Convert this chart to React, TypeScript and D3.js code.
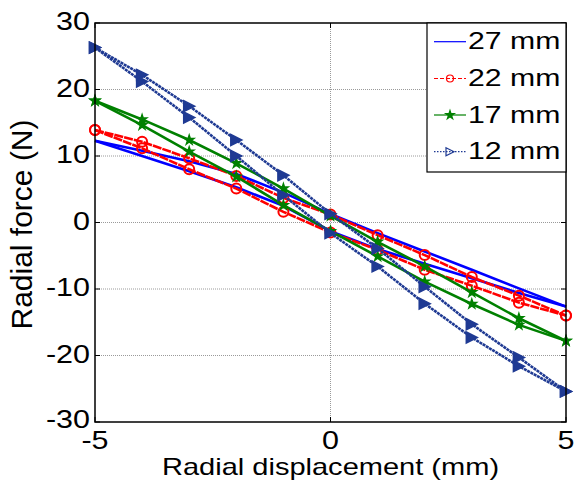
import React, { useEffect, useRef } from "react";
import * as d3 from "d3";

// displacement steps (mm)
const disp = [-5, -4, -3, -2, -1, 0, 1, 2, 3, 4, 5];

// each gap measured as a loop: lower branch going -5 -> 5, upper branch going back 5 -> -5
const lower27 = [12.3, 10.0, 7.7, 5.3, 2.5, -1.3, -4.0, -6.2, -8.4, -10.6, -12.65];
const upper27 = [12.3, 10.8, 9.2, 7.3, 4.5, 1.3, -1.6, -4.35, -7.1, -9.9, -12.65];
const lower22 = [13.9, 11.15, 8.0, 5.1, 1.6, -1.5, -4.1, -7.1, -9.5, -12.05, -14.0];
const upper22 = [13.9, 12.15, 9.65, 7.0, 3.7, 1.2, -1.9, -4.9, -8.2, -11.0, -14.0];
const lower17 = [18.3, 14.65, 10.65, 6.9, 2.6, -1.3, -5.1, -8.9, -12.25, -15.4, -17.8];
const upper17 = [18.3, 15.5, 12.4, 8.9, 5.1, 1.0, -2.9, -6.6, -10.5, -14.4, -17.8];
const lower12 = [26.3, 21.2, 15.8, 10.0, 4.1, -1.6, -6.6, -12.2, -17.3, -21.6, -25.4];
const upper12 = [26.3, 22.2, 17.5, 12.4, 7.1, 1.3, -3.9, -9.65, -15.3, -20.3, -25.4];

const seriesNames = ["27 mm", "22 mm", "17 mm", "12 mm"];
const xTicks = [-5, 0, 5];
const yTicks = [-30, -20, -10, 0, 10, 20, 30];

const App = () => {
  const svgRef = useRef<SVGSVGElement>(null);

  useEffect(() => {
    const width = 574;
    const height = 484;
    const margin = { top: 23, right: 8, bottom: 62, left: 95 };
    const fontFam = "'Liberation Sans', Arial, Helvetica, sans-serif";

    const svg = d3.select(svgRef.current)
      .attr("width", width)
      .attr("height", height);
    svg.selectAll("*").remove();

    svg.append("rect").attr("width", width).attr("height", height).attr("fill", "white");

    const x = d3.scaleLinear().domain([-5, 5]).range([margin.left, width - margin.right]);
    const y = d3.scaleLinear().domain([-30, 30]).range([height - margin.bottom, margin.top]);

    // grid
    const grid = svg.append("g");
    yTicks.slice(1, -1).forEach(t => {
      grid.append("line")
        .attr("x1", x(-5)).attr("x2", x(5))
        .attr("y1", y(t)).attr("y2", y(t))
        .attr("stroke", "#9a9a9a").attr("stroke-width", 1).attr("stroke-dasharray", "1,1");
    });
    grid.append("line")
      .attr("x1", x(0)).attr("x2", x(0))
      .attr("y1", y(-30)).attr("y2", y(30))
      .attr("stroke", "#9a9a9a").attr("stroke-width", 1).attr("stroke-dasharray", "1,1");

    const series = [
      { name: seriesNames[0], lo: lower27, up: upper27, color: "#0000ff", dash: null, marker: "none" },
      { name: seriesNames[1], lo: lower22, up: upper22, color: "#ff0000", dash: "9,1", marker: "circle" },
      { name: seriesNames[2], lo: lower17, up: upper17, color: "#008000", dash: null, marker: "star" },
      { name: seriesNames[3], lo: lower12, up: upper12, color: "#1f3a93", dash: "3,0.7", marker: "tri" },
    ];

    const line = d3.line<[number, number]>()
      .x(d => x(d[0]))
      .y(d => y(d[1]));

    const drawMarker = (g: any, kind: string, color: string, cx: number, cy: number, small = false) => {
      if (kind === "circle") {
        g.append("circle").attr("cx", cx).attr("cy", cy).attr("r", small ? 3.5 : 5)
          .attr("fill", "none").attr("stroke", color).attr("stroke-width", small ? 1.2 : 2);
      } else if (kind === "star") {
        g.append("path").attr("d", d3.symbol().type(d3.symbolStar).size(small ? 18 : 26)())
          .attr("transform", `translate(${cx},${cy})`)
          .attr("fill", color).attr("stroke", color).attr("stroke-width", 1.5);
      } else if (kind === "tri") {
        const s = small ? 4 : 5.5;
        g.append("path")
          .attr("d", `M${cx - s},${cy - s}L${cx + s},${cy}L${cx - s},${cy + s}Z`)
          .attr("fill", small ? "none" : color).attr("stroke", color).attr("stroke-width", small ? 1.2 : 1.5);
      }
    };

    const plot = svg.append("g");
    series.forEach(s => {
      const loLine = disp.map((d, i) => [d, s.lo[i]] as [number, number]);
      const upLine = disp.map((d, i) => [d, s.up[i]] as [number, number]);
      [loLine, upLine].forEach(pts => {
        plot.append("path")
          .datum(pts)
          .attr("fill", "none")
          .attr("stroke", s.color)
          .attr("stroke-width", 2.6)
          .attr("stroke-dasharray", s.dash)
          .attr("d", line);
        pts.forEach(p => drawMarker(plot, s.marker, s.color, x(p[0]), y(p[1])));
      });
    });

    // axes box
    svg.append("rect")
      .attr("x", x(-5)).attr("y", y(30))
      .attr("width", x(5) - x(-5)).attr("height", y(-30) - y(30))
      .attr("fill", "none").attr("stroke", "black").attr("stroke-width", 1.5);

    const ticks = svg.append("g").attr("stroke", "black").attr("stroke-width", 1);
    yTicks.forEach(t => {
      ticks.append("line").attr("x1", x(-5)).attr("x2", x(-5) + 5).attr("y1", y(t)).attr("y2", y(t));
      ticks.append("line").attr("x1", x(5)).attr("x2", x(5) - 5).attr("y1", y(t)).attr("y2", y(t));
    });
    xTicks.forEach(t => {
      ticks.append("line").attr("x1", x(t)).attr("x2", x(t)).attr("y1", y(-30)).attr("y2", y(-30) - 5);
      ticks.append("line").attr("x1", x(t)).attr("x2", x(t)).attr("y1", y(30)).attr("y2", y(30) + 5);
    });

    const sx = 1.22;
    yTicks.forEach(t => {
      svg.append("text")
        .attr("transform", `translate(${x(-5) - 5},${y(t) + (t === -30 ? 5.5 : 7)}) scale(${sx},1)`)
        .attr("text-anchor", "end")
        .attr("font-family", fontFam).attr("font-size", 25)
        .text(String(t));
    });
    xTicks.forEach(t => {
      svg.append("text")
        .attr("transform", `translate(${x(t)},${449}) scale(${sx},1)`)
        .attr("text-anchor", "middle")
        .attr("font-family", fontFam).attr("font-size", 25)
        .text(String(t));
    });

    svg.append("text")
      .attr("transform", `translate(${(x(-5) + x(5)) / 2},475) scale(1.21,1)`)
      .attr("text-anchor", "middle")
      .attr("font-family", fontFam).attr("font-size", 24)
      .text("Radial displacement (mm)");

    svg.append("text")
      .attr("transform", `translate(32,${(y(-30) + y(30)) / 2 + 2}) rotate(-90)`)
      .attr("text-anchor", "middle")
      .attr("font-family", fontFam).attr("font-size", 30)
      .text("Radial force (N)");

    // legend
    const lg = svg.append("g");
    lg.append("rect")
      .attr("x", 427).attr("y", y(30))
      .attr("width", x(5) - 427).attr("height", 149)
      .attr("fill", "white").attr("stroke", "black").attr("stroke-width", 1.2);
    const rowY = [41.7, 78.5, 115, 151.7];
    series.forEach((s, i) => {
      const ly = rowY[i];
      lg.append("line")
        .attr("x1", 434).attr("x2", 466).attr("y1", ly).attr("y2", ly)
        .attr("stroke", s.color).attr("stroke-width", 1.2)
        .attr("stroke-dasharray", i === 1 ? "4,2" : i === 3 ? "1.5,1.5" : null);
      drawMarker(lg, s.marker, s.color, 450, ly, true);
      lg.append("text")
        .attr("transform", `translate(468,${ly + 7.5}) scale(1.26,1)`)
        .attr("font-family", fontFam).attr("font-size", 24)
        .text(s.name);
    });
  }, []);

  return <svg ref={svgRef} style={{ position: "absolute", left: 0, top: 0 }}></svg>;
};

export default App;
